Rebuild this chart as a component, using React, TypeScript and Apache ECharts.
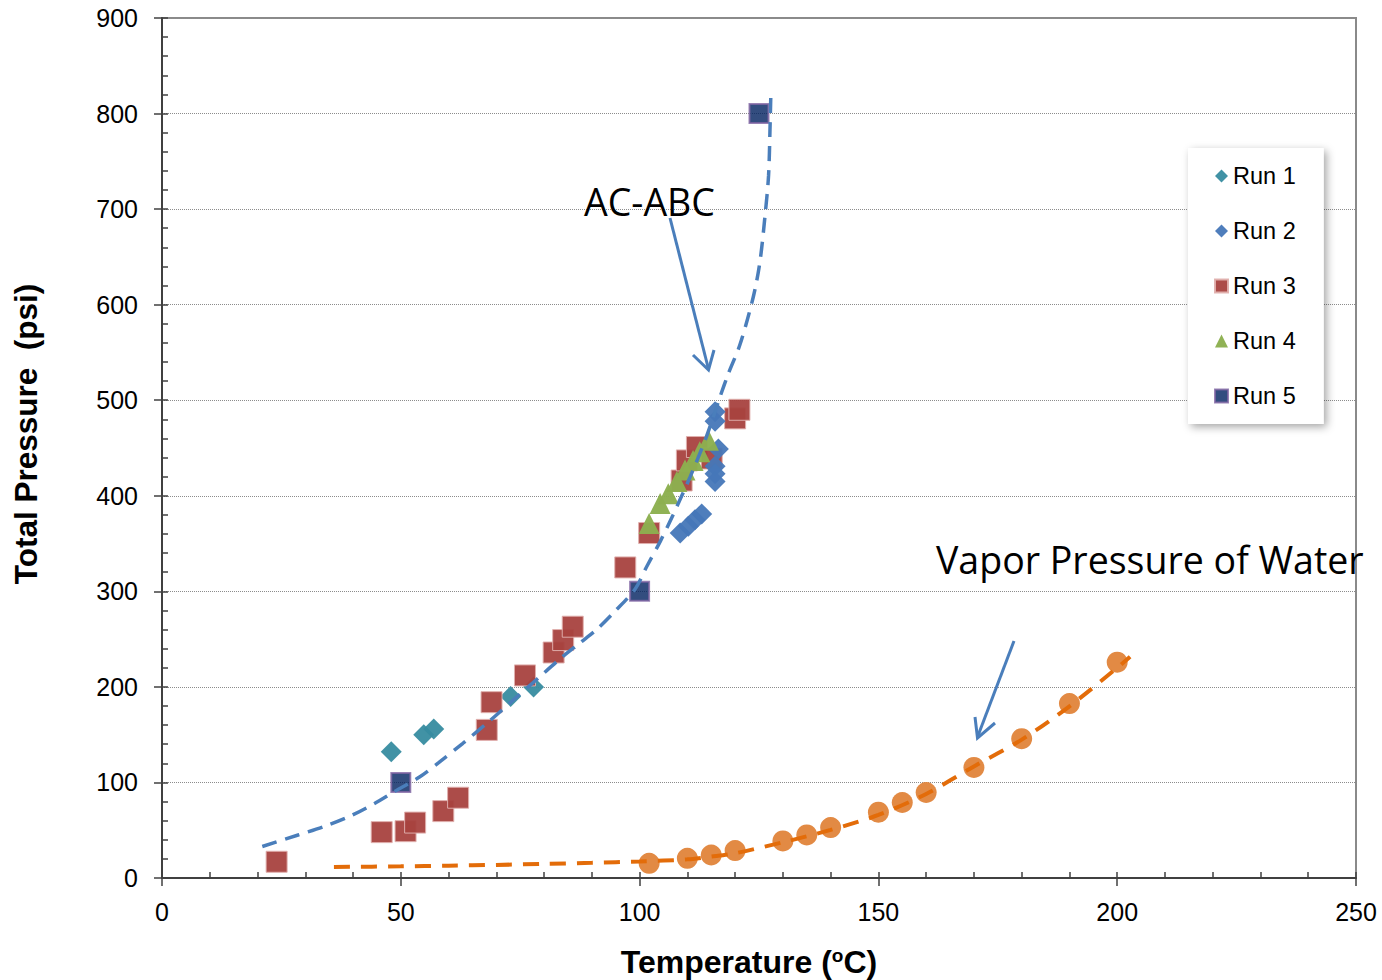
import React, { useEffect, useRef } from "react";
import * as echarts from "echarts";

// Temperature (°C), Total Pressure (psi)
const run1: number[][] = [[48, 132], [54.8, 150], [56.9, 156], [73, 190], [77.8, 200]];
const run2: number[][] = [
  [108.5, 361], [110.2, 368], [111.6, 375], [113, 381],
  [115.8, 488], [115.8, 478], [116.5, 449], [115.8, 431], [115.8, 423], [115.8, 415],
];
const run3: number[][] = [
  [24, 17], [46, 48], [51, 49], [53, 58], [58.9, 70], [62, 84], [68, 155], [69, 184],
  [76, 212], [82, 236], [84, 249], [86, 263], [97, 325], [102, 361], [108.8, 416],
  [109.9, 437], [112, 451], [115.1, 439], [120, 481], [120.9, 490],
];
const run4: number[][] = [
  [102, 371], [104.3, 392], [106, 402], [107.8, 415], [109.5, 427], [111.2, 437], [112.6, 446], [114.4, 458],
];
const run5: number[][] = [[50, 100], [100, 300], [125, 800]];
const water: number[][] = [
  [102, 15.4], [110, 20.6], [115, 24.1], [120, 28.7], [130, 38.8], [135, 45.1], [140, 52.8],
  [150, 68.9], [155, 79], [160, 89.5], [170, 115.7], [180, 145.8], [190, 182.5], [200, 225.9],
];
const acAbcFit: number[][] = [
  [21, 33], [28.5, 45], [34, 54], [39.5, 65], [44.5, 78], [48.5, 90], [54, 106], [58, 121],
  [63, 141], [68.5, 164], [73.5, 186], [78.5, 208], [83.5, 230], [87.5, 246], [91, 260],
  [94.8, 279], [99, 302], [101.5, 326], [104.3, 352], [107, 380], [110.6, 420], [114, 462],
  [116.8, 503], [118.6, 528], [121, 558], [123.8, 608], [125.2, 645], [126.3, 695],
  [127, 735], [127.3, 783], [127.5, 825],
];
const waterFit: number[][] = [
  [36, 11.5], [50, 12.2], [60, 12.9], [70, 13.7], [80, 14.8], [90, 15.9], [100, 17.3],
  [110, 19.5], [115, 22.4], [120, 25.9], [130, 37.4], [140, 50.3], [150, 66], [160, 88],
  [170, 116.8], [180, 144.8], [190, 179.7], [200, 220], [202.7, 231.6],
];
const runNames = ["Run 1", "Run 2", "Run 3", "Run 4", "Run 5"];

const FONT = '"Liberation Sans", Arial, sans-serif';

export default function App() {
  const ref = useRef<HTMLDivElement>(null);
  useEffect(() => {
    if (!ref.current) return;
    const chart = echarts.init(ref.current, undefined, { renderer: "svg" });
    const axisCommon = { min: 0, splitLine: { show: false } };
    chart.setOption({
      animation: false,
      backgroundColor: "#ffffff",
      grid: {
        left: 162, top: 18, right: 26, bottom: 102,
        outerBoundsMode: "none",
        containLabel: false,
        show: true, borderColor: "#8a8a8a", borderWidth: 2, backgroundColor: "transparent",
      },
      legend: {
        orient: "vertical",
        left: 1188,
        top: 148,
        data: [
          { name: runNames[0], icon: "diamond" },
          { name: runNames[1], icon: "diamond" },
          { name: runNames[2], icon: "rect" },
          { name: runNames[3], icon: "triangle" },
          { name: runNames[4], icon: "rect" },
        ],
        itemWidth: 13,
        itemHeight: 13,
        itemGap: 31,
        padding: [16, 28, 16, 26],
        backgroundColor: "#ffffff",
        shadowBlur: 8,
        shadowColor: "rgba(0,0,0,0.35)",
        shadowOffsetX: 3,
        shadowOffsetY: 3,
        textStyle: { fontSize: 23.5, color: "#000", fontFamily: FONT },
      },
      xAxis: [
        {
          ...axisCommon,
          type: "value",
          max: 250,
          interval: 50,
          name: "Temperature ({sup|o}C)",
          nameLocation: "middle",
          nameGap: 68,
          nameTextStyle: {
            fontSize: 32, fontWeight: "bold", color: "#000", fontFamily: FONT, padding: [0, 20, 0, 0],
            rich: { sup: { fontSize: 19, fontWeight: "bold", fontFamily: FONT, color: "#000", verticalAlign: "top", lineHeight: 16 } },
          },
          axisLine: { show: true, onZero: false, lineStyle: { color: "#404040", width: 2 } },
          axisTick: { show: true, length: 8, lineStyle: { color: "#404040", width: 1.5 } },
          axisLabel: { fontSize: 25, color: "#000", fontFamily: FONT, margin: 21 },
        },
        {
          ...axisCommon,
          type: "value",
          max: 250,
          interval: 10,
          position: "bottom",
          axisLine: { show: false },
          axisTick: { show: true, inside: true, length: 6, lineStyle: { color: "#404040", width: 1.5 } },
          axisLabel: { show: false },
        },
      ],
      yAxis: [
        {
          ...axisCommon,
          type: "value",
          max: 900,
          interval: 100,
          name: "Total Pressure  (psi)",
          nameLocation: "middle",
          nameGap: 120,
          nameTextStyle: { fontSize: 31.5, fontWeight: "bold", color: "#000", fontFamily: FONT, padding: [0, 0, 0, 28] },
          splitLine: { show: true, lineStyle: { type: "dotted", color: "#8c8c8c", width: 1 } },
          axisLine: { show: true, onZero: false, lineStyle: { color: "#404040", width: 2 } },
          axisTick: { show: true, length: 8, lineStyle: { color: "#404040", width: 1.5 } },
          axisLabel: { fontSize: 25, color: "#000", fontFamily: FONT, margin: 24 },
        },
        {
          ...axisCommon,
          type: "value",
          max: 900,
          interval: 20,
          position: "left",
          axisLine: { show: false },
          axisTick: { show: true, inside: true, length: 6, lineStyle: { color: "#404040", width: 1.5 } },
          axisLabel: { show: false },
        },
      ],
      series: [
        {
          name: "Water", type: "scatter", data: water, symbol: "circle", symbolSize: 21,
          itemStyle: { color: "#E0843A", opacity: 0.95 }, z: 2,
        },
        {
          name: runNames[0], type: "scatter", data: run1, symbol: "diamond", symbolSize: 21,
          itemStyle: { color: "#378CA0", opacity: 0.95 }, z: 3,
        },
        {
          name: runNames[2], type: "scatter", data: run3, symbol: "rect", symbolSize: 21,
          itemStyle: { color: "#A8423F", borderColor: "#E0B0AE", borderWidth: 1, opacity: 0.95 }, z: 3,
        },
        {
          name: runNames[1], type: "scatter", data: run2, symbol: "diamond", symbolSize: 21,
          itemStyle: { color: "#4677B8", opacity: 0.95 }, z: 3,
        },
        {
          name: runNames[3], type: "scatter", data: run4, symbol: "triangle", symbolSize: 21,
          itemStyle: { color: "#8CB04F", opacity: 0.97 }, z: 4,
        },
        {
          name: runNames[4], type: "scatter", data: run5, symbol: "rect", symbolSize: 19,
          itemStyle: { color: "#00205F", borderColor: "#8064A2", borderWidth: 2 }, z: 4,
        },
        {
          name: "AC-ABC fit", type: "line", data: acAbcFit, showSymbol: false, smooth: 0.3,
          lineStyle: { color: "#4A7EBB", width: 3.5, type: [15, 9] }, z: 5, silent: true,
        },
        {
          name: "Water fit", type: "line", data: waterFit, showSymbol: false, smooth: 0.3,
          lineStyle: { color: "#E36C09", width: 4, type: [16, 11] }, z: 5, silent: true,
        },
      ],
      graphic: [
        {
          type: "text", x: 584, y: 201, z: 100,
          style: { text: "AC-ABC", fontSize: 37.5, fontFamily: '"Open Sans", sans-serif', fill: "#000", verticalAlign: "middle" },
        },
        {
          type: "text", x: 936, y: 559, z: 100,
          style: { text: "Vapor Pressure of Water", fontSize: 37.5, fontFamily: '"Open Sans", sans-serif', fill: "#000", verticalAlign: "middle" },
        },
        { type: "line", z: 100, shape: { x1: 670, y1: 218, x2: 708.5, y2: 369 }, style: { stroke: "#4A7EBB", lineWidth: 3 } },
        { type: "polyline", z: 100, shape: { points: [[693, 355], [708.5, 370], [714, 350]] }, style: { stroke: "#4A7EBB", lineWidth: 3, fill: "none" } },
        { type: "line", z: 100, shape: { x1: 1014, y1: 641, x2: 977.5, y2: 737 }, style: { stroke: "#4A7EBB", lineWidth: 3 } },
        { type: "polyline", z: 100, shape: { points: [[975, 717], [977.5, 738], [995, 723]] }, style: { stroke: "#4A7EBB", lineWidth: 3, fill: "none" } },
      ],
    });
    return () => chart.dispose();
  }, []);
  return (
    <div
      ref={ref}
      style={{ position: "absolute", left: 0, top: 0, width: 1382, height: 980, background: "#fff" }}
    />
  );
}
